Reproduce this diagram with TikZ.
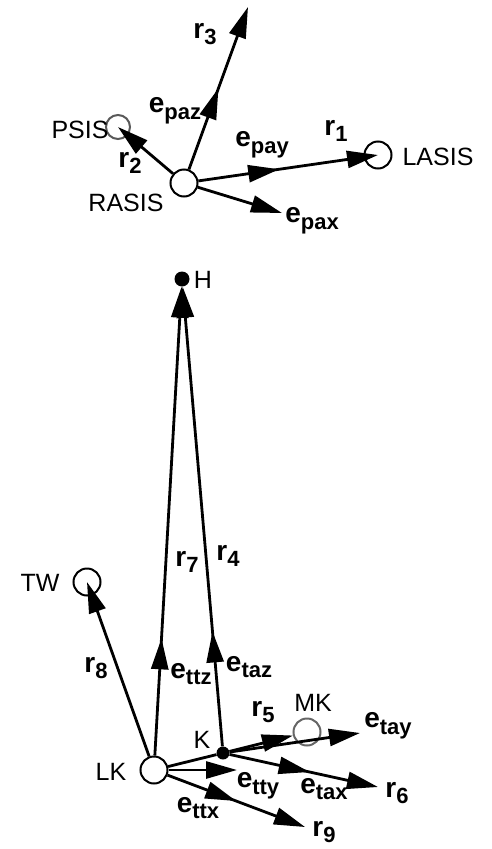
\documentclass[tikz,border=0pt]{standalone}
\usepackage{fontspec}
\setmainfont{Liberation Sans}
\usetikzlibrary{arrows.meta,decorations.markings}
\newcommand{\vsub}[2]{{\fontsize{28}{30}\selectfont\bfseries #1}\raisebox{-0.5ex}{\fontsize{22}{22}\selectfont\bfseries #2}}

\begin{document}
\begin{tikzpicture}[x=1pt,y=-1pt,
  font=\fontsize{25}{30}\selectfont,
  marker/.style={circle,draw,line width=2pt,minimum size=27pt,inner sep=0pt},
  dot/.style={circle,fill,minimum size=15pt,inner sep=0pt},
  vec/.style={line width=2.8pt,-{Triangle[length=31pt,width=17pt]}},
  midvec/.style={line width=2.8pt,postaction={decorate},
    decoration={markings,mark=at position #1 with {\arrow{Triangle[length=31pt,width=17pt]}}}},
  lbl/.style={inner sep=1pt}]
  \useasboundingbox (0,0) rectangle (491,849);

  \node[marker] (rasis) at (184,183) {};
  \node[marker,minimum size=24pt,draw=black!65] (psis) at (118,127) {};
  \node[marker] (lasis) at (378,155) {};
  \coordinate (r3tip) at (248,7);
  \coordinate (paxtip) at (282,213);

  \draw[vec,midvec=0.5] (rasis) -- (r3tip);
  \draw[vec] (rasis) -- (psis.center);
  \draw[vec,midvec=0.45] (rasis) -- (lasis.center);
  \draw[vec] (rasis) -- (paxtip);

  \node[lbl] (lr3) at (205,34) {\vsub{r}{3}};
  \node[lbl] (lpaz) at (175,111) {\vsub{e}{paz}};
  \node[lbl] (lr2) at (130,163) {\vsub{r}{2}};
  \node[lbl] (lpsis) at (80,130) {PSIS};
  \node[lbl] (lpay) at (262,145) {\vsub{e}{pay}};
  \node[lbl] (lr1) at (336,131) {\vsub{r}{1}};
  \node[lbl] (llasis) at (438,157) {LASIS};
  \node[lbl] (lrasis) at (126,203) {RASIS};
  \node[lbl] (lpax) at (312,221) {\vsub{e}{pax}};

  \node[dot] (h) at (182,279) {};
  \node[marker] (lk) at (154,770) {};
  \node[dot,minimum size=13pt] (k) at (223,753) {};
  \node[marker] (tw) at (87,582) {};
  \node[marker,draw=black!60] (mk) at (307,732) {};
  \coordinate (taytip) at (360,733);
  \coordinate (r6tip) at (378,787);
  \coordinate (r9tip) at (305,827);
  \coordinate (ttytip) at (237,770);

  \draw[vec,midvec=0.25] (lk) -- (h);
  \draw[vec,midvec=0.25] (k) -- (h);
  \draw[vec] (lk) -- (tw.center);
  \draw[line width=2.8pt] (lk) -- (k);
  \draw[vec] (k) -- (mk);
  \draw[vec] (k) -- (taytip);
  \draw[vec,midvec=0.54] (k) -- (r6tip);
  \draw[vec,midvec=0.5] (lk) -- (r9tip);
  \draw[vec] (lk) -- (ttytip);

  \node[lbl] (lh) at (203,280) {H};
  \node[lbl] (lr7) at (187,562) {\vsub{r}{7}};
  \node[lbl] (lr4) at (228,556) {\vsub{r}{4}};
  \node[lbl] (ltw) at (40,583) {TW};
  \node[lbl] (lr8) at (96,668) {\vsub{r}{8}};
  \node[lbl] (lttz) at (191,674) {\vsub{e}{ttz}};
  \node[lbl] (ltaz) at (249,667) {\vsub{e}{taz}};
  \node[lbl] (lr5) at (263,712) {\vsub{r}{5}};
  \node[lbl] (lmk) at (313,703) {MK};
  \node[lbl] (ltay) at (388,726) {\vsub{e}{tay}};
  \node[lbl] (lk2) at (202,740) {K};
  \node[lbl] (llk) at (111,772) {LK};
  \node[lbl] (ltty) at (258,786) {\vsub{e}{tty}};
  \node[lbl] (ltax) at (324,789) {\vsub{e}{tax}};
  \node[lbl] (lr6) at (397,793) {\vsub{r}{6}};
  \node[lbl] (lttx) at (198,808) {\vsub{e}{ttx}};
  \node[lbl] (lr9) at (324,832) {\vsub{r}{9}};
\end{tikzpicture}
\end{document}
